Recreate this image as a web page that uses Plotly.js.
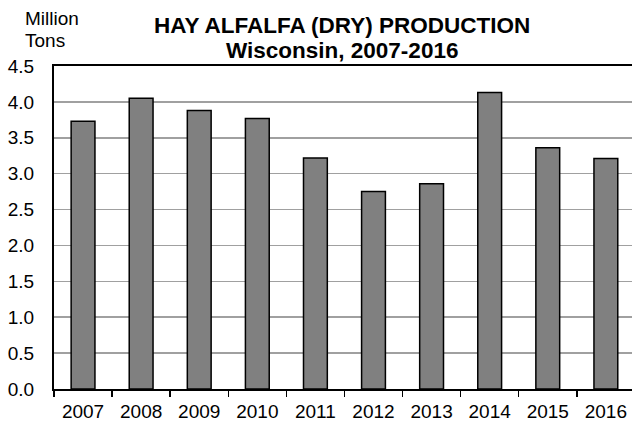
<!DOCTYPE html>
<html>
<head>
<meta charset="utf-8">
<script src="https://cdn.plot.ly/plotly-3.0.1.min.js"></script>
<style>html,body{margin:0;padding:0;background:#fff;}#chart{width:632px;height:425px;}</style>
</head>
<body>
<div id="chart"></div>
<script>
const years = ["2007","2008","2009","2010","2011","2012","2013","2014","2015","2016"];
const production = [3.73, 4.05, 3.88, 3.77, 3.22, 2.75, 2.86, 4.13, 3.36, 3.21];
const yTickValues = [0, 0.5, 1.0, 1.5, 2.0, 2.5, 3.0, 3.5, 4.0, 4.5];
const titleLines = ["HAY ALFALFA (DRY) PRODUCTION", "Wisconsin, 2007-2016"];
const unitLines = ["Million", "Tons"];

const trace = {
  type: "bar",
  x: years,
  y: production,
  width: 0.41,
  marker: {color: "#808080", line: {color: "#000000", width: 1.5}},
  hoverinfo: "x+y"
};

const layout = {
  width: 632, height: 425,
  margin: {l: 54, r: 0, t: 66, b: 36},
  paper_bgcolor: "#ffffff", plot_bgcolor: "#ffffff",
  font: {family: "Liberation Sans, Arial, sans-serif", color: "#000", size: 19},
  showlegend: false,
  xaxis: {
    type: "category",
    range: [-0.5, 9.45],
    showline: true, linecolor: "#000", linewidth: 2, mirror: true,
    ticks: "outside", tickson: "boundaries", ticklen: 6, tickwidth: 1.5, tickcolor: "#000",
    showgrid: false, zeroline: false,
    ticklabelstandoff: 4,
    tickfont: {size: 19, color: "#000"}
  },
  yaxis: {
    range: [0, 4.5],
    tickvals: yTickValues,
    tickformat: ".1f",
    showline: true, linecolor: "#000", linewidth: 2,
    showgrid: true, gridcolor: "#a0a0a0", gridwidth: 1.5,
    zeroline: false,
    ticks: "", ticklabelstandoff: 14,
    tickfont: {size: 19, color: "#000"}
  },
  annotations: [
    {text: "<b>" + titleLines[0] + "</b>", xref: "paper", yref: "paper", x: 0.498, y: 1.125,
     xanchor: "center", yanchor: "middle", showarrow: false, font: {size: 22.5, color: "#000"}},
    {text: "<b>" + titleLines[1] + "</b>", xref: "paper", yref: "paper", x: 0.498, y: 1.0495,
     xanchor: "center", yanchor: "middle", showarrow: false, font: {size: 22.5, color: "#000"}},
    {text: unitLines[0], xref: "paper", yref: "paper", x: -0.0536, y: 1.146,
     xanchor: "left", yanchor: "middle", showarrow: false, font: {size: 19, color: "#000"}},
    {text: unitLines[1], xref: "paper", yref: "paper", x: -0.0536, y: 1.079,
     xanchor: "left", yanchor: "middle", showarrow: false, font: {size: 19, color: "#000"}}
  ]
};

Plotly.newPlot("chart", [trace], layout, {displayModeBar: false, staticPlot: true});
</script>
</body>
</html>
